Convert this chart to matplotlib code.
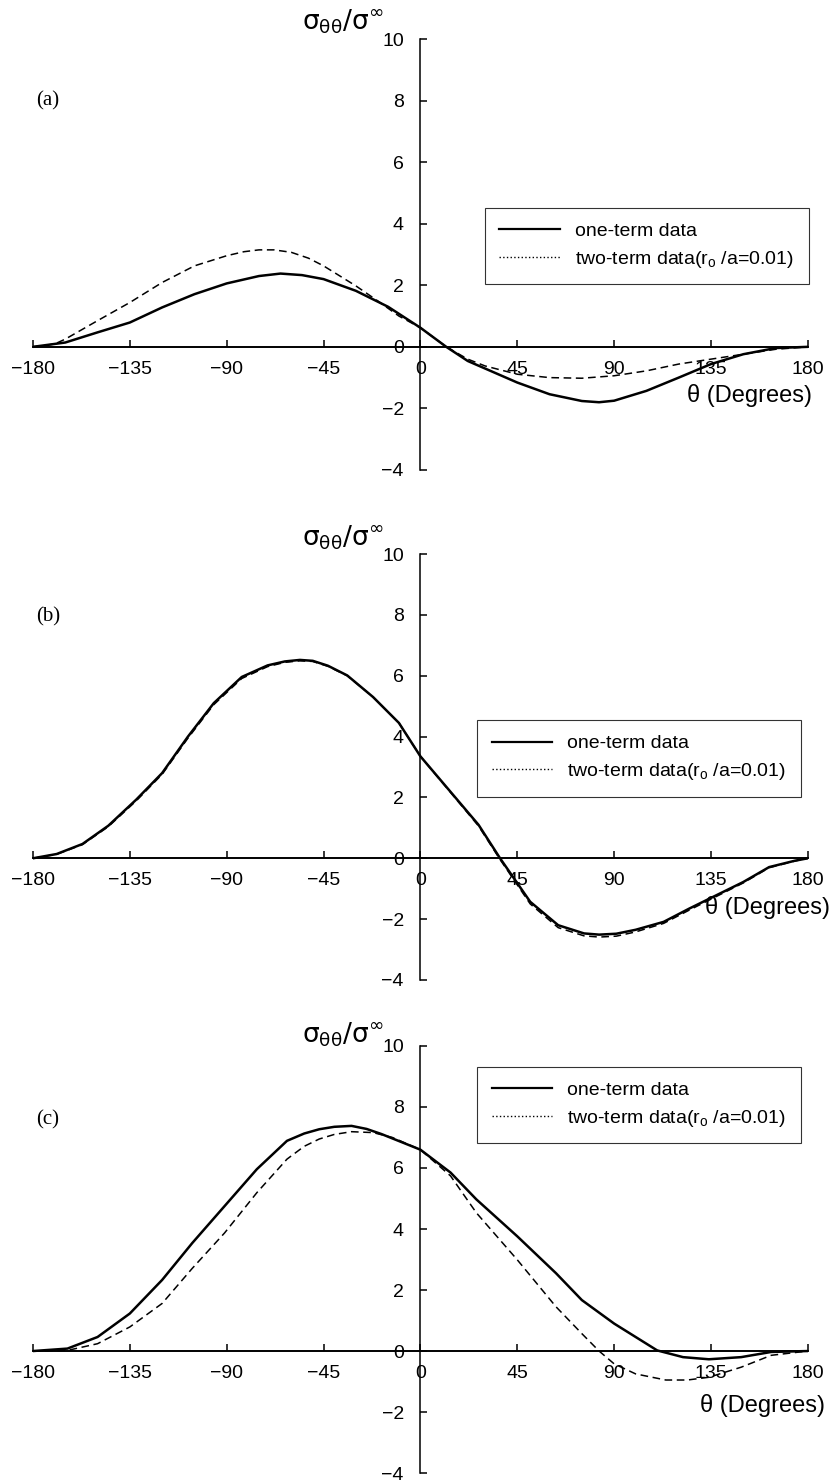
import matplotlib.pyplot as plt
from matplotlib.lines import Line2D

plt.rcParams.update({
    'font.family': ['Liberation Sans', 'DejaVu Sans'],
    'font.size': 13,
    'mathtext.fontset': 'dejavusans',
})

# Panel (a) -- one-term (solid) and two-term (dashed) data
theta_a1 = [-180, -165, -150, -135, -120, -105, -90, -75, -65, -55, -45, -30, -15, 0, 12, 22, 45, 60, 75, 83, 90, 105, 120, 135, 150, 165, 180]
sig_a1 = [0, 0.14, 0.47, 0.79, 1.28, 1.71, 2.06, 2.30, 2.38, 2.33, 2.20, 1.82, 1.30, 0.62, 0, -0.46, -1.16, -1.54, -1.76, -1.80, -1.75, -1.43, -1.0, -0.56, -0.24, -0.04, 0]
theta_a2 = [-180, -170, -165, -150, -135, -120, -105, -90, -82, -75, -68, -60, -52, -45, -30, -20, -10, 0, 12, 22, 30, 45, 60, 75, 90, 105, 120, 135, 150, 165, 180]
sig_a2 = [0, 0.09, 0.25, 0.85, 1.44, 2.09, 2.63, 2.96, 3.09, 3.15, 3.15, 3.07, 2.88, 2.63, 1.98, 1.5, 1.0, 0.62, 0, -0.4, -0.62, -0.89, -1.0, -1.02, -0.94, -0.78, -0.56, -0.4, -0.24, -0.08, 0]

# Panel (b)
theta_b1 = [-180, -169, -157, -145, -132, -120, -108, -96, -83, -71, -63, -56, -50, -43, -34, -22, -10, 0, 15, 27, 37, 51, 64, 76, 83, 91, 100, 113, 125, 150, 162, 174, 180]
sig_b1 = [0, 0.14, 0.47, 1.07, 1.93, 2.8, 4.0, 5.1, 5.96, 6.34, 6.47, 6.52, 6.49, 6.33, 6.01, 5.3, 4.45, 3.35, 2.1, 1.1, 0, -1.43, -2.2, -2.47, -2.51, -2.48, -2.35, -2.09, -1.65, -0.78, -0.29, -0.08, 0]
theta_b2 = [-180, -169, -157, -145, -132, -120, -108, -96, -83, -71, -63, -56, -50, -43, -34, -22, -10, 0, 15, 27, 37, 51, 64, 76, 83, 91, 100, 113, 125, 150, 162, 174, 180]
sig_b2 = [0, 0.13, 0.45, 1.04, 1.89, 2.76, 3.95, 5.05, 5.91, 6.30, 6.44, 6.49, 6.47, 6.31, 6.00, 5.3, 4.45, 3.35, 2.08, 1.06, -0.04, -1.5, -2.28, -2.55, -2.59, -2.56, -2.42, -2.14, -1.70, -0.81, -0.31, -0.09, 0]

# Panel (c)
theta_c1 = [-180, -164, -150, -135, -120, -106, -91, -76, -62, -54, -47, -40, -32, -25, -18, 0, 14, 26, 45, 63, 75, 90, 100, 110, 122, 134, 149, 163, 180]
sig_c1 = [0, 0.08, 0.46, 1.23, 2.33, 3.54, 4.75, 5.96, 6.89, 7.13, 7.27, 7.35, 7.38, 7.28, 7.11, 6.60, 5.85, 4.97, 3.76, 2.55, 1.67, 0.9, 0.46, 0.02, -0.2, -0.27, -0.2, -0.03, 0]
theta_c2 = [-180, -164, -150, -135, -120, -106, -91, -76, -62, -54, -47, -40, -32, -22, -13, 0, 14, 26, 45, 63, 75, 83, 90, 100, 114, 124, 134, 149, 163, 180]
sig_c2 = [0, 0.02, 0.24, 0.79, 1.56, 2.71, 3.87, 5.19, 6.29, 6.71, 6.95, 7.10, 7.19, 7.16, 7.0, 6.60, 5.74, 4.53, 2.99, 1.45, 0.57, 0, -0.42, -0.75, -0.95, -0.95, -0.86, -0.53, -0.14, 0]

x_ticks = [-180, -135, -90, -45, 0, 45, 90, 135, 180]
y_ticks = [-4, -2, 0, 2, 4, 6, 8, 10]

# axes rectangles in figure fractions (left, bottom, width, height)
panels = [
    ('(a)', theta_a1, sig_a1, theta_a2, sig_a2, [0.0395, 0.6831, 0.928, 0.2906], (0.583, 0.608), 0.856, 0.172, 1.005, 1.039),
    ('(b)', theta_b1, sig_b1, theta_b2, sig_b2, [0.0395, 0.3392, 0.928, 0.2872], (0.573, 0.610), 0.852, 0.171, 1.028, 1.038),
    ('(c)', theta_c1, sig_c1, theta_c2, sig_c2, [0.0395, 0.0067, 0.928, 0.2880], (0.573, 0.951), 0.827, 0.159, 1.022, 1.026),
]

fig = plt.figure(figsize=(8.35, 14.83), dpi=100)

for tag, t1, s1, t2, s2, rect, leg_xy, tag_y, xl_y, xl_x, yl_y in panels:
    ax = fig.add_axes(rect)
    ax.plot(t1, s1, color='black', linewidth=1.8, solid_joinstyle='round')
    ax.plot(t2, s2, color='black', linewidth=1.1, linestyle=(0, (5, 3)))

    ax.set_xlim(-180, 180)
    ax.set_ylim(-4, 10)
    ax.spines['left'].set_position(('data', 0))
    ax.spines['bottom'].set_position(('data', 0))
    ax.spines['top'].set_visible(False)
    ax.spines['right'].set_visible(False)
    ax.spines['left'].set_linewidth(1.1)
    ax.spines['bottom'].set_linewidth(1.4)
    ax.set_xticks(x_ticks)
    ax.set_yticks(y_ticks)
    ax.set_xticklabels([str(v).replace('-', '\u2212') for v in x_ticks])
    ax.set_yticklabels([str(v).replace('-', '\u2212') for v in y_ticks])
    ax.tick_params(axis='x', direction='in', length=5, width=1.1, pad=10, labelsize=14)
    ax.tick_params(axis='y', direction='in', length=5, width=1.1, pad=12, labelsize=14)
    ax.patch.set_alpha(0)

    handles = [Line2D([], [], color='black', linewidth=1.6, linestyle='-'),
               Line2D([], [], color='black', linewidth=1.0, linestyle=':')]
    leg = ax.legend(handles, ['one-term data', 'two-term data(r$\\mathregular{_o}$ /a=0.01)'],
                    loc='upper left', bbox_to_anchor=leg_xy, fontsize=14,
                    frameon=True, fancybox=False, edgecolor='black',
                    handlelength=3.1, handletextpad=0.8, borderpad=0.75,
                    labelspacing=0.45, borderaxespad=0)
    leg.get_frame().set_linewidth(0.8)

    ax.text(0.004, tag_y, tag, transform=ax.transAxes, fontsize=15,
            family=['Liberation Serif', 'DejaVu Serif'], ha='left', va='center')
    ax.text(xl_x, xl_y, '\u03b8 (Degrees)', transform=ax.transAxes, fontsize=17,
            ha='right', va='center')
    ax.text(0.40, yl_y, r'$\mathrm{\sigma_{\theta\theta}/\sigma^{\infty}}$', transform=ax.transAxes,
            fontsize=19, ha='center', va='center')

fig.savefig('out.png', dpi=100)
plt.close(fig)
